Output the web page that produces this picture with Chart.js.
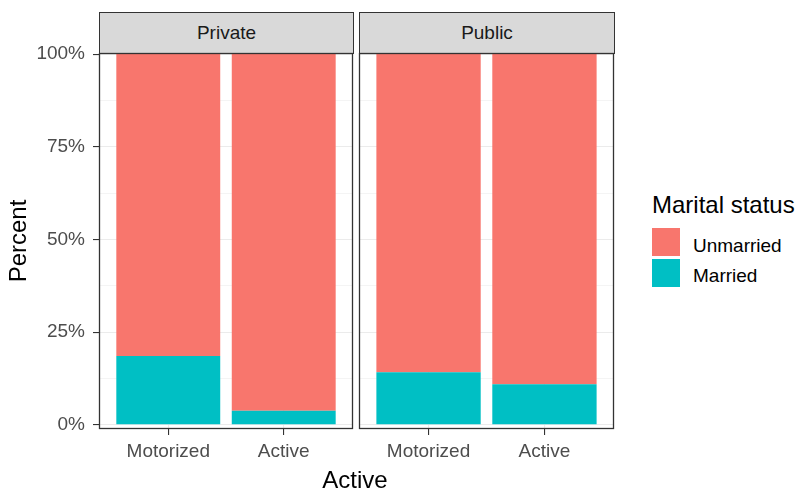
<!DOCTYPE html>
<html>
<head>
<meta charset="utf-8">
<script src="https://cdn.jsdelivr.net/npm/chart.js@4.4.1/dist/chart.umd.min.js"></script>
<style>
  body { margin: 0; background: #fff; font-family: "Liberation Sans", Arial, sans-serif; }
  #wrap { position: relative; width: 798px; height: 490px; overflow: hidden; }
  canvas { position: absolute; }
  .strip {
    position: absolute; top: 12px; height: 42px; box-sizing: border-box;
    background: #d9d9d9; border: 1px solid #333;
    display: flex; align-items: center; justify-content: center;
    font-size: 19px; color: #1a1a1a;
  }
  .txt { position: absolute; white-space: nowrap; line-height: 1; }
  .key { position: absolute; left: 652px; width: 28px; height: 28px; }
</style>
</head>
<body>
<div id="wrap">
  <div class="strip" id="strip0" style="left:99px; width:255px;"></div>
  <div class="strip" id="strip1" style="left:359px; width:256px;"></div>
  <canvas id="panel0" width="358" height="447" style="left:0; top:43px;"></canvas>
  <canvas id="panel1" width="266" height="447" style="left:354px; top:43px;"></canvas>
  <div class="txt" id="xTitle" style="left:355px; top:468px; transform:translateX(-50%); font-size:24px; color:#000;"></div>
  <div id="legend"></div>
</div>
<script>
// facets, categories and values (percent of each bar)
const facets = ['Private', 'Public'];
const categories = ['Motorized', 'Active'];
const xPositions = [1, 2];
const marriedPct = [[18.6, 3.8], [14.2, 11.0]];
const unmarriedPct = [[81.4, 96.2], [85.8, 89.0]];
const legendLabels = ['Unmarried', 'Married'];
const legendColors = ['#F8766D', '#00BFC4'];
const yTicks = [0, 12.5, 25, 37.5, 50, 62.5, 75, 87.5, 100];

document.getElementById('strip0').textContent = facets[0];
document.getElementById('strip1').textContent = facets[1];
document.getElementById('xTitle').textContent = 'Active';

const legend = document.getElementById('legend');
legend.innerHTML = `<div class="txt" style="left:652px; top:193px; font-size:24px; color:#000;">Marital status</div>`;
const keyTops = [228, 258.5];
const labelTops = [235.5, 265.5];
legendLabels.forEach((lab, i) => {
    legend.innerHTML += `
        <div class="key" style="top:${keyTops[i]}px; background:${legendColors[i]};"></div>
        <div class="txt" style="left:693px; top:${labelTops[i]}px; font-size:19px; color:#000;">${lab}</div>
    `;
});

const panelBorder = {
    id: 'panelBorder',
    afterDatasetsDraw(chart) {
        const a = chart.chartArea;
        const ctx = chart.ctx;
        ctx.save();
        ctx.strokeStyle = '#333333';
        ctx.lineWidth = 1.3;
        ctx.strokeRect(a.left + 0.5, a.top + 0.5, a.right - a.left - 1, a.bottom - a.top - 1);
        ctx.restore();
    }
};

function drawPanel(id, f, showY) {
    const ctx = document.getElementById(id).getContext('2d');
    new Chart(ctx, {
        type: 'bar',
        data: {
            labels: xPositions,
            datasets: [{
                label: legendLabels[1],
                data: marriedPct[f],
                backgroundColor: legendColors[1],
                borderWidth: 0,
                categoryPercentage: 0.9,
                barPercentage: 1.0
            }, {
                label: legendLabels[0],
                data: unmarriedPct[f],
                backgroundColor: legendColors[0],
                borderWidth: 0,
                categoryPercentage: 0.9,
                barPercentage: 1.0
            }]
        },
        options: {
            responsive: false,
            animation: false,
            layout: {
                padding: { top: 10, left: 0, right: showY ? 5 : 6, bottom: 21 }
            },
            plugins: { legend: { display: false }, tooltip: { enabled: false } },
            scales: {
                x: {
                    type: 'linear',
                    stacked: true,
                    offset: false,
                    min: 0.4,
                    max: 2.6,
                    afterBuildTicks: (s) => { s.ticks = xPositions.map(v => ({ value: v })); },
                    afterFit: (s) => { s.height = 40; s.paddingLeft = 0; s.paddingRight = 0; },
                    border: { display: false },
                    grid: {
                        offset: false,
                        color: '#ebebeb', lineWidth: 1.1,
                        tickLength: 6, tickColor: '#333333', tickWidth: 1.1
                    },
                    ticks: {
                        autoSkip: false, maxRotation: 0, padding: 5,
                        color: '#4d4d4d',
                        font: { family: '"Liberation Sans", Arial, sans-serif', size: 19 },
                        callback: (v) => categories[xPositions.indexOf(v)]
                    }
                },
                y: {
                    stacked: true,
                    min: -1.1,
                    max: 100.3,
                    afterBuildTicks: (s) => { s.ticks = yTicks.map(v => ({ value: v })); },
                    afterFit: (s) => { s.width = showY ? 99 : 5; s.paddingTop = 0; s.paddingBottom = 0; },
                    border: { display: false },
                    grid: {
                        color: '#ebebeb',
                        lineWidth: (c) => (c.tick && c.tick.value % 25 === 0) ? 1.1 : 0.55,
                        drawTicks: showY,
                        tickLength: 6,
                        tickColor: (c) => (c.tick && c.tick.value % 25 === 0) ? '#333333' : 'rgba(0,0,0,0)',
                        tickWidth: 1.1
                    },
                    ticks: {
                        display: showY,
                        autoSkip: false,
                        padding: 8,
                        color: '#4d4d4d',
                        font: { family: '"Liberation Sans", Arial, sans-serif', size: 19 },
                        callback: (v) => (v % 25 === 0) ? v + '%' : ''
                    },
                    title: {
                        display: showY,
                        text: 'Percent',
                        color: '#000000',
                        padding: { top: 5, bottom: 0 },
                        font: { family: '"Liberation Sans", Arial, sans-serif', size: 24 }
                    }
                }
            }
        },
        plugins: [panelBorder]
    });
}

drawPanel('panel0', 0, true);
drawPanel('panel1', 1, false);
</script>
</body>
</html>
